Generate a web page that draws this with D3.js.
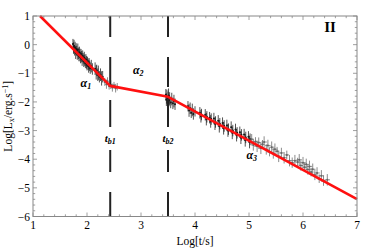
<!DOCTYPE html>
<html><head><meta charset="utf-8">
<script src="https://cdn.jsdelivr.net/npm/d3@7"></script>
<style>body{margin:0;background:#fff}svg{display:block}text{font-family:"Liberation Serif","Times New Roman",serif}</style>
</head><body><svg id="c" width="374" height="248"></svg>
<script>
// Broken power-law fit (red line)
const fitLogT = [1.13, 2.43, 3.5, 7.0];
const fitLogL = [1.0, -1.44, -1.82, -5.39];
// Break times
const breaks = [2.43, 3.5];
const breakLabels = ["b1", "b2"];
// Observed points: log time, log luminosity, error in logL, error in logT
const obsLogT = [1.74,1.75,1.76,1.77,1.78,1.79,1.80,1.81,1.82,1.83,1.84,1.85,1.86,1.87,1.88,1.89,1.90,1.91,1.92,1.93,1.94,1.95,1.96,1.97,1.98,1.99,2.00,2.01,2.02,2.03,2.04,2.05,2.06,2.08,2.10,
 2.15,2.17,2.18,2.20,2.21,2.23,2.25,2.27,2.29,
 2.33,2.36,2.38,2.41,2.44,2.47,2.50,2.53,2.56,
 3.46,3.47,3.48,3.49,3.50,3.51,3.52,3.53,3.55,3.57,3.59,3.61,3.63,
 3.87,3.89,3.91,3.93,3.95,3.97,4.00,
 4.09,4.11,4.12,4.19,4.21,4.22,4.27,4.29,4.30,4.35,4.37,4.38,4.43,4.45,4.46,4.51,4.53,4.54,4.59,4.61,4.62,4.67,4.69,4.70,4.75,4.77,4.78,4.83,4.85,4.86,4.91,4.93,4.94,4.99,5.01,5.02,
 5.05,5.08,5.12,5.15,5.18,5.22,5.25,5.28,5.32,5.35,5.38,5.42,5.45,5.48,5.52,5.55,5.60,5.65,5.70,5.75,5.80,5.85,5.90,5.93,5.96,6.00,6.03,6.06,6.09,6.12,6.15,6.18,6.22,6.26,6.30,6.34,6.38,6.45];
const obsLogL = [0.02,-0.12,-0.05,-0.20,-0.10,-0.28,-0.15,-0.22,-0.33,-0.18,-0.30,-0.40,-0.27,-0.36,-0.45,-0.33,-0.42,-0.52,-0.40,-0.48,-0.58,-0.47,-0.55,-0.64,-0.53,-0.62,-0.70,-0.60,-0.68,-0.76,-0.67,-0.74,-0.82,-0.75,-0.85,
 -0.84,-0.97,-0.90,-1.05,-0.98,-1.12,-1.05,-1.18,-1.12,
 -1.30,-1.38,-1.28,-1.45,-1.40,-1.50,-1.42,-1.52,-1.47,
 -1.75,-1.92,-1.82,-2.00,-1.86,-1.78,-1.95,-1.88,-2.02,-1.90,-2.05,-1.97,-2.08,
 -2.15,-2.30,-2.22,-2.38,-2.28,-2.42,-2.33,
 -2.38,-2.50,-2.44,-2.45,-2.60,-2.52,-2.55,-2.68,-2.60,-2.58,-2.76,-2.70,-2.66,-2.85,-2.76,-2.74,-2.92,-2.84,-2.82,-3.00,-2.95,-2.88,-3.08,-3.00,-2.96,-3.16,-3.08,-3.06,-3.25,-3.15,-3.14,-3.34,-3.24,-3.22,-3.40,-3.30,
 -3.30,-3.50,-3.38,-3.55,-3.42,-3.62,-3.48,-3.40,-3.66,-3.52,-3.75,-3.58,-3.80,-3.65,-3.72,-3.90,-3.78,-3.95,-3.85,-4.05,-4.12,-4.05,-4.10,-4.02,-4.22,-4.12,-4.28,-4.18,-4.36,-4.25,-4.45,-4.35,-4.55,-4.48,-4.68,-4.58,-4.75,-4.72];
const obsErrL = [0.18,0.2,0.22,0.18,0.2,0.22,0.2,0.18,0.2,0.22,0.2,0.18,0.2,0.22,0.2,0.18,0.2,0.22,0.2,0.18,0.2,0.22,0.2,0.18,0.2,0.22,0.2,0.18,0.2,0.22,0.2,0.18,0.2,0.22,0.2,
 0.22,0.25,0.2,0.22,0.25,0.2,0.22,0.25,0.2,
 0.14,0.16,0.14,0.12,0.15,0.14,0.12,0.15,0.13,
 0.2,0.22,0.25,0.2,0.22,0.25,0.2,0.22,0.2,0.22,0.2,0.22,0.2,
 0.18,0.22,0.2,0.18,0.22,0.2,0.18,
 0.2,0.22,0.2,0.2,0.22,0.2,0.2,0.22,0.2,0.2,0.22,0.2,0.2,0.22,0.2,0.2,0.22,0.2,0.2,0.22,0.2,0.2,0.22,0.2,0.2,0.22,0.2,0.2,0.22,0.2,0.2,0.22,0.2,0.2,0.22,0.2,
 0.18,0.2,0.15,0.2,0.18,0.2,0.15,0.2,0.18,0.2,0.15,0.2,0.18,0.2,0.15,0.2,0.18,0.2,0.15,0.2,0.18,0.2,0.15,0.2,0.18,0.2,0.15,0.2,0.18,0.2,0.15,0.2,0.18,0.2,0.15,0.2,0.18,0.2];
const obsErrT = [0.01,0.01,0.01,0.01,0.01,0.01,0.01,0.01,0.01,0.01,0.01,0.01,0.01,0.01,0.01,0.01,0.01,0.01,0.01,0.01,0.01,0.01,0.01,0.01,0.01,0.01,0.01,0.01,0.01,0.01,0.01,0.01,0.01,0.01,0.01,
 0.01,0.01,0.01,0.01,0.01,0.01,0.01,0.01,0.01,
 0.02,0.02,0.02,0.02,0.02,0.02,0.02,0.02,0.02,
 0.01,0.01,0.01,0.01,0.01,0.01,0.01,0.01,0.01,0.01,0.01,0.01,0.01,
 0.01,0.01,0.01,0.01,0.01,0.01,0.01,
 0.01,0.01,0.01,0.01,0.01,0.01,0.01,0.01,0.01,0.01,0.01,0.01,0.01,0.01,0.01,0.01,0.01,0.01,0.01,0.01,0.01,0.01,0.01,0.01,0.01,0.01,0.01,0.01,0.01,0.01,0.01,0.01,0.01,0.01,0.01,0.01,
 0.04,0.05,0.04,0.05,0.04,0.05,0.04,0.05,0.04,0.05,0.04,0.05,0.04,0.05,0.04,0.05,0.04,0.05,0.04,0.05,0.04,0.05,0.04,0.05,0.04,0.05,0.04,0.05,0.04,0.05,0.04,0.05,0.04,0.05,0.04,0.05,0.04,0.05];
const xTicks = [1,2,3,4,5,6,7];
const yTicks = [1,0,-1,-2,-3,-4,-5,-6];
const slopeLabels = [{i:"1", x:1.98, y:-1.48},{i:"2", x:2.95, y:-1.02},{i:"3", x:5.05, y:-3.98}];

const svg = d3.select("#c");
const L = 33, R = 357, T = 16, B = 216.5;
const x = d3.scaleLinear().domain([1,7]).range([L,R]);
const y = d3.scaleLinear().domain([-6,1]).range([B,T]);

// error bars and points
const pts = obsLogT.map((t,i)=>({t, l:obsLogL[i], el:obsErrL[i], et:obsErrT[i]}));
const g = svg.append("g");
pts.forEach(p=>{
  const c = (p.t>2.3 && p.t<2.6) || p.t>5.03 ? "#666" : "#1a1a1a";
  g.append("line").attr("x1",x(p.t)).attr("x2",x(p.t)).attr("y1",y(p.l-p.el)).attr("y2",y(p.l+p.el)).attr("stroke",c).attr("stroke-width",0.75);
  g.append("line").attr("x1",x(p.t-p.et)).attr("x2",x(p.t+p.et)).attr("y1",y(p.l)).attr("y2",y(p.l)).attr("stroke",c).attr("stroke-width",0.75);
  g.append("circle").attr("cx",x(p.t)).attr("cy",y(p.l)).attr("r",1).attr("fill",c);
});

// dashed break lines
breaks.forEach(b=>{
  svg.append("line").attr("x1",x(b)).attr("x2",x(b)).attr("y1",T).attr("y2",B)
    .attr("stroke","#222").attr("stroke-width",2).attr("stroke-dasharray","21,20,30,13,27,23,22,20,26");
});

// fit line
svg.append("path").datum(fitLogT.map((t,i)=>[t,fitLogL[i]]))
  .attr("d", d3.line().x(d=>x(d[0])).y(d=>y(d[1])))
  .attr("fill","none").attr("stroke","#ff1010").attr("stroke-width",2.6).attr("stroke-linejoin","round");

// frame
svg.append("rect").attr("x",L).attr("y",T).attr("width",R-L).attr("height",B-T).attr("fill","none").attr("stroke","#888").attr("stroke-width",1);

// ticks on all sides
const tk = svg.append("g").attr("stroke","#888").attr("stroke-width",0.8);
for(let v=1; v<=7.0001; v+=0.2){
  const major = Math.abs(v-Math.round(v))<1e-6, len = major?4:2.2;
  tk.append("line").attr("x1",x(v)).attr("x2",x(v)).attr("y1",B).attr("y2",B-len);
  tk.append("line").attr("x1",x(v)).attr("x2",x(v)).attr("y1",T).attr("y2",T+len);
}
for(let v=-6; v<=1.0001; v+=0.2){
  const major = Math.abs(v-Math.round(v))<1e-6, len = major?4:2.2;
  tk.append("line").attr("x1",L).attr("x2",L+len).attr("y1",y(v)).attr("y2",y(v));
  tk.append("line").attr("x1",R).attr("x2",R-len).attr("y1",y(v)).attr("y2",y(v));
}
// tick labels
svg.append("g").selectAll("text").data(xTicks).join("text")
  .attr("x",d=>x(d)).attr("y",B+12).attr("text-anchor","middle").attr("font-size",11.5).text(d=>d);
svg.append("g").selectAll("text").data(yTicks).join("text")
  .attr("x",L-3).attr("y",d=>y(d)+4).attr("text-anchor","end").attr("font-size",11.5).text(d=>d<0?"\u2212"+(-d):d);

// axis titles
svg.append("text").attr("x",(L+R)/2).attr("y",245).attr("text-anchor","middle").attr("font-size",11.5).text("Log[t/s]");
const yl = svg.append("text").attr("transform",`translate(12,${(T+B)/2}) rotate(-90)`).attr("text-anchor","middle").attr("font-size",11.5);
yl.append("tspan").text("Log[L");
yl.append("tspan").attr("font-size",8).attr("dy",2).text("x");
yl.append("tspan").attr("dy",-2).text("/erg.s");
yl.append("tspan").attr("font-size",8).attr("dy",-4).text("\u22121");
yl.append("tspan").attr("dy",4).text("]");

// break labels
breaks.forEach((b,i)=>{
  const t = svg.append("text").attr("x",x(b)).attr("y",142).attr("text-anchor","middle").attr("font-size",11).attr("font-weight","bold").attr("font-style","italic");
  t.append("tspan").text("t");
  t.append("tspan").attr("font-size",8).attr("dy",2).text(breakLabels[i]);
});
// slope labels
slopeLabels.forEach(s=>{
  const t = svg.append("text").attr("x",x(s.x)).attr("y",y(s.y)).attr("text-anchor","middle").attr("font-size",12).attr("font-weight","bold").attr("font-style","italic");
  t.append("tspan").text("\u03b1");
  t.append("tspan").attr("font-size",8).attr("dy",2).text(s.i);
});
svg.append("text").attr("x",330).attr("y",32).attr("text-anchor","middle").attr("font-size",15).attr("font-weight","bold").text("II");
</script></body></html>
